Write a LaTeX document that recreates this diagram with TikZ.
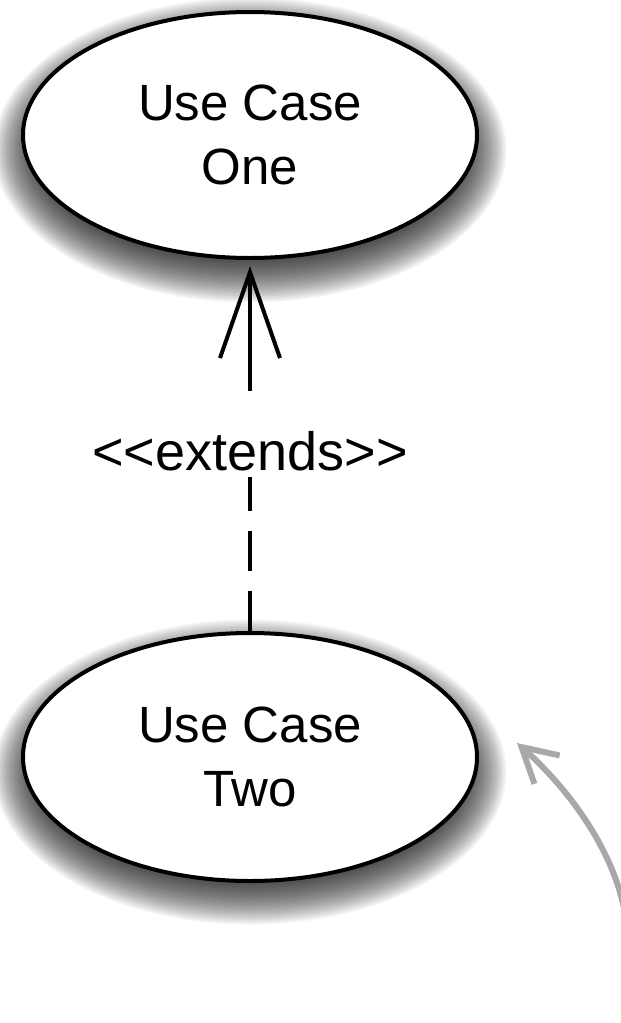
\documentclass[tikz,border=0pt]{standalone}
\usepackage{fontspec}
\setmainfont{Liberation Sans}
\usetikzlibrary{shapes.geometric,arrows.meta}

\begin{document}
\begin{tikzpicture}[x=1bp,y=-1bp,
  usecase/.style={ellipse, draw=black, fill=white, line width=4bp,
    minimum width=454bp, minimum height=246bp, inner sep=0pt, align=center,
    font=\fontsize{51bp}{63.4bp}\selectfont},
  extendsline/.style={line width=4bp,
    dash pattern=on 40bp off 20bp on 40bp off 20bp on 40bp off 20bp on 40bp off 20bp on 400bp off 10bp,
    -{Straight Barb[sharp,length=86bp,width=60bp]}, shorten >=6bp},
  stereotype/.style={fill=white, inner xsep=2bp, inner ysep=0pt,
    text height=64bp, text depth=7bp, anchor=base,
    font=\fontsize{54bp}{60bp}\selectfont},
  pointer/.style={draw=black!34, line width=6bp,
    -{Straight Barb[sharp,length=34bp,width=38bp]}},
  softshadow/.style={fill=black, opacity=0.04},
]
\useasboundingbox (0,0) rectangle (621,1023);

% blurred drop shadows under both use cases
\foreach \cy in {150,772} {
  \foreach \k in {0,...,33} {
    \pgfmathsetmacro\rx{207+1.5*\k}
    \pgfmathsetmacro\ry{103+1.5*\k}
    \fill[softshadow] (250,\cy) ellipse [x radius=\rx bp, y radius=\ry bp];
  }
}

% use cases
\node[usecase] (U1) at (250,135) {Use Case\\One};
\node[usecase, minimum height=248bp] (U2) at (250,757) {Use Case\\Two};

% extends relation
\draw[extendsline] (U2.north) -- (U1.south);
\node[stereotype] (ext) at (250,470) {<\kern0pt<extends>\kern0pt>};

% incoming pointer from the lower right
\coordinate (src) at (628,960);
\coordinate (hint) at (517,743);
\draw[pointer] (src) .. controls (634,870) and (570,790) .. (hint);
\end{tikzpicture}
\end{document}
